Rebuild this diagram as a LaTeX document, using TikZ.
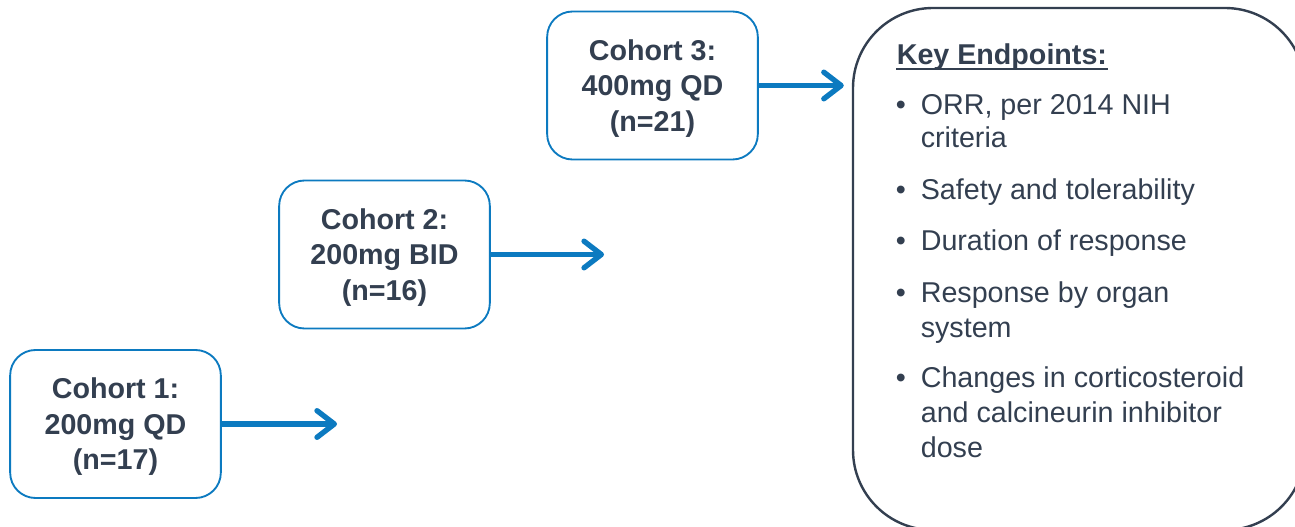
\documentclass[tikz,border=0pt]{standalone}
\usepackage{fontspec}
\setmainfont{Liberation Sans}
\usetikzlibrary{arrows.meta}
\definecolor{slate}{RGB}{51,63,80}
\definecolor{cohortblue}{RGB}{12,122,192}

\begin{document}
\begin{tikzpicture}[x=0.75pt, y=-0.75pt, very thick]
	\tikzstyle{cohort} = [rectangle, rounded corners=19pt, draw=cohortblue, line width=1.4pt, fill=white, minimum width=158pt, minimum height=111pt, inner sep=0pt, text height=73pt, text depth=4.5pt, align=center, text=slate, font=\fontsize{21.5}{26.6}\selectfont\bfseries]
	\tikzstyle{keybox} = [rectangle, rounded corners=60pt, draw=slate, line width=1.8pt, minimum width=339pt, minimum height=391.5pt, inner sep=0pt]
	\tikzstyle{item}   = [anchor=base west, inner sep=0pt, text=slate, font=\fontsize{21.5}{25.9}\selectfont]
	\tikzstyle{flow}   = [draw=cohortblue, line width=4pt, -{Straight Barb[length=13pt, width=20pt, round]}]

	\path[use as bounding box, clip] (0,0) rectangle (1295,527);

	% cohorts
	\foreach \n/\x/\y/\dose/\size in {1/115.5/424/200mg QD/17, 2/384.5/254.5/200mg BID/16, 3/652.5/85.5/400mg QD/21}
		\node[cohort] (c\n) at (\x, \y) {Cohort \n:\\\dose\\(n=\size)};

	% endpoints box
	\node[keybox] (ep) at (1079, 269) {};
	\node[item, font=\fontsize{21.5}{25.9}\selectfont\bfseries] (head) at (896, 65) {Key Endpoints:};
	\draw[slate, line width=1.3pt] ([yshift=-3.2pt]head.base west) -- ([yshift=-3.2pt]head.base east);

	\foreach \i/\y in {1/115, 2/200, 3/251, 4/302, 5/387}
		\node[item, anchor=base] (b\i) at (901, \y) {\textbullet};

	\foreach \i/\y/\t in {1/115/{ORR, per 2014 NIH}, 2/148/criteria, 3/200/Safety and tolerability, 4/251/Duration of response, 5/302/Response by organ, 6/337/system, 7/387/Changes in corticosteroid, 8/422/and calcineurin inhibitor, 9/457/dose}
		\node[item] (t\i) at (920, \y) {\t};

	% arrows
	\coordinate (e1) at (337, 424);
	\coordinate (e2) at (604, 254.5);
	\foreach \n in {1, 2}
		\draw[flow] (c\n) -- (e\n);
	\draw[flow, shorten >=6pt] (c3) -- (c3 -| ep.west);

\end{tikzpicture}
\end{document}
